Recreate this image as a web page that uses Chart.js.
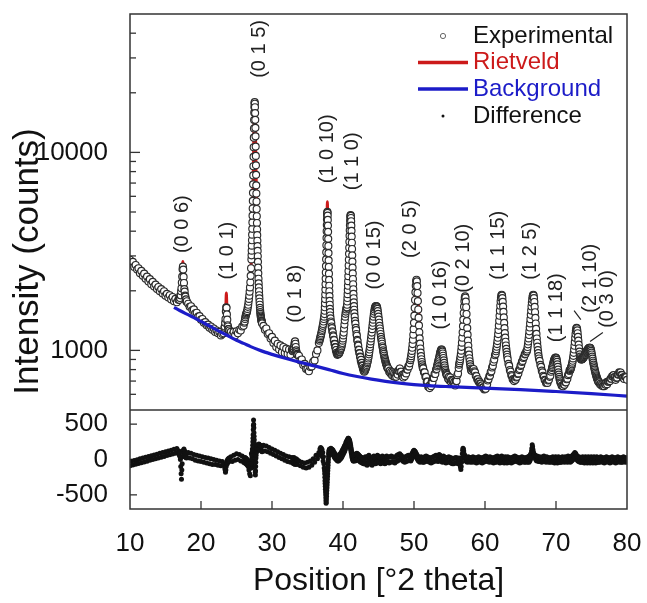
<!DOCTYPE html>
<html>
<head>
<meta charset="utf-8">
<script src="https://cdn.jsdelivr.net/npm/chart.js@4.4.1/dist/chart.umd.min.js"></script>
<style>
  html, body { margin: 0; padding: 0; background: #fff; }
  #wrap { width: 647px; height: 603px; }
</style>
</head>
<body>
<div id="wrap"><canvas id="xrd" width="647" height="603"></canvas></div>
<script>
const experimentalSegments = [
  [10.0, 0.2, [2870, 2740, 2800, 2640, 2700, 2560, 2600, 2450, 2520, 2380, 2440, 2300, 2360, 2230, 2290, 2160, 2220, 2100, 2150, 2040, 2090, 1990, 2040, 1940, 1990, 1890, 1930, 1850, 1900, 1810, 1860, 1770, 1820, 1750, 1800]],
  [16.9, 0.05, [1820, 1800, 1850, 1840, 1900, 1900, 1990, 2060, 2200, 2360, 2570, 2650, 2560, 2350, 2190, 2040, 1980, 1890, 1870, 1800, 1810, 1760, 1770]],
  [18.2, 0.2, [1720, 1660, 1670, 1600, 1610, 1540, 1550, 1480, 1490, 1430, 1440, 1380, 1390, 1340, 1350, 1300, 1320, 1270, 1290, 1240, 1260, 1220, 1240, 1190, 1210, 1220]],
  [23.3, 0.05, [1300, 1320, 1380, 1440, 1570, 1650, 1640, 1520, 1430, 1340, 1320, 1280, 1280, 1240, 1260]],
  [24.2, 0.2, [1240, 1200, 1240, 1190, 1250, 1220, 1270, 1260, 1320, 1330]],
  [26.1, 0.05, [1380, 1400, 1440, 1470, 1500, 1520, 1540, 1560, 1580, 1620, 1660, 1700, 1760, 1820, 1890, 1980, 2080, 2210, 2380, 2600, 2880]],
  [27.12, 0.02, [3020, 3190, 3380, 3600, 3840, 4110, 4430, 4790, 5210, 5690, 6250, 6900, 7650, 8510, 9500, 10620, 11870, 13200, 14570, 15870, 16960, 17690, 17950, 17600, 16900, 15800, 14600, 13300, 12050, 10700, 9600, 8600, 7700, 6820, 6200, 5650, 5180, 4760, 4400, 4080, 3820, 3580, 3360, 3180]],
  [28.0, 0.025, [2990, 2800, 2620, 2450, 2300, 2180, 2080, 1990, 1900, 1830, 1760, 1700, 1640, 1600, 1560, 1530, 1500, 1480, 1460, 1440, 1420, 1410, 1400, 1385, 1370]],
  [28.8, 0.2, [1330, 1270, 1290, 1210, 1220, 1150, 1170, 1090, 1120, 1040, 1080, 1010, 1060, 980, 1040, 970, 1020, 960, 1010, 950, 1010]],
  [32.9, 0.05, [990, 1000, 1010, 1020, 1040, 1070, 1100, 1110, 1080, 1040, 1000, 980, 960, 950, 950]],
  [33.8, 0.2, [940, 890, 900, 845, 855, 805, 805, 785, 825, 830, 875, 890, 960, 1000, 1090]],
  [36.7, 0.05, [1120, 1140, 1160, 1180, 1200, 1220, 1250, 1270, 1300, 1330, 1360, 1400, 1440, 1480]],
  [37.4, 0.02, [1525, 1585, 1652, 1729, 1816, 1915, 2028, 2157, 2305, 2473, 2666, 2883, 3128, 3398, 3690, 3995, 4298, 4577, 4806, 4957, 5010, 4950, 4790, 4560, 4270, 3970, 3660, 3370, 3100, 2850, 2640, 2440, 2270, 2120, 1990, 1880, 1780, 1700, 1620, 1560, 1500]],
  [38.25, 0.05, [1450, 1400, 1375, 1320, 1295, 1250, 1235, 1190, 1175, 1130, 1125, 1080, 1075, 1040, 1035, 1000, 1005, 970, 975, 950, 965, 955]],
  [39.35, 0.05, [960, 970, 965, 980, 985, 1000, 1010, 1020, 1030, 1050, 1070, 1090, 1120, 1150, 1190, 1230, 1290, 1350, 1420, 1480, 1530, 1570, 1610, 1640]],
  [40.55, 0.025, [1650, 1700, 1766, 1840, 1923, 2016, 2120, 2237, 2370, 2518, 2685, 2870, 3075, 3298, 3537, 3788, 4040, 4282, 4498, 4670, 4781, 4820, 4780, 4665, 4488, 4266, 4016, 3756, 3498, 3251, 3021, 2810, 2619, 2447, 2294, 2158, 2037, 1929, 1834, 1748, 1672, 1604, 1543]],
  [41.65, 0.05, [1480, 1410, 1365, 1300, 1265, 1210, 1185, 1130, 1115, 1070, 1055, 1010, 1005, 970, 965, 930, 925, 890, 895, 860, 865, 840, 835, 810, 815, 790, 805, 780, 795, 790]],
  [43.15, 0.05, [800, 810, 820, 830, 845, 860, 875, 890, 910, 930, 955, 980, 1010, 1040, 1075, 1110, 1150, 1190, 1230, 1280, 1330, 1380, 1430, 1480, 1530, 1570, 1610, 1640, 1660, 1670, 1675, 1670, 1665,
                 1650, 1620, 1580, 1530, 1480, 1430, 1380, 1330, 1290, 1250, 1210, 1170, 1140, 1110, 1080, 1050, 1030, 1000, 980, 960, 940, 920, 905, 890, 875, 860, 850, 840, 830, 820, 810]],
  [46.4, 0.1, [810, 780, 790, 765, 780, 750, 775, 740, 765, 735, 760, 735, 765, 755, 790, 785, 810, 780, 780, 745, 755, 730, 755, 740, 770, 765, 800, 800, 830, 830, 860]],
  [49.5, 0.05, [893, 911, 935, 961, 994, 1031, 1076, 1132, 1199, 1280, 1378, 1498, 1637, 1796, 1964, 2120, 2233, 2275, 2231, 2113, 1950, 1775, 1609, 1463, 1337, 1235, 1151, 1081, 1022, 975, 936, 902, 874, 850, 830, 813]],
  [51.3, 0.1, [810, 775, 775, 735, 735, 695, 695, 655, 660, 645, 670, 660, 695, 690, 725, 725, 760, 760, 800, 805]],
  [53.25, 0.05, [830, 845, 860, 875, 890, 905, 920, 940, 960, 975, 990, 1000, 1010, 1010, 1000, 985, 965, 940, 915, 890, 865, 840, 820, 800, 785, 770, 760, 750]],
  [54.7, 0.1, [750, 720, 735, 705, 730, 695, 710, 700, 705, 680, 695, 665, 700, 700, 750, 765, 815]],
  [56.35, 0.05, [846, 862, 881, 903, 929, 959, 997, 1042, 1094, 1158, 1234, 1325, 1429, 1544, 1663, 1770, 1846, 1874, 1844, 1764, 1652, 1527, 1406, 1296, 1201, 1121, 1055, 999, 952, 913, 881, 853, 830, 810, 793]],
  [58.1, 0.1, [790, 805, 800, 805, 785, 775, 745, 740, 715, 715, 695, 695, 680, 680, 665, 665, 650, 650, 635, 640, 640, 665, 675, 705, 715, 740, 745, 775, 785, 820, 835, 875, 900, 945, 960]],
  [61.55, 0.05, [990, 1014, 1043, 1076, 1114, 1158, 1209, 1267, 1335, 1411, 1496, 1587, 1680, 1769, 1842, 1893, 1910, 1892, 1837, 1759, 1664, 1564, 1467, 1376, 1295, 1222, 1160, 1106, 1059, 1018, 983, 952, 926]],
  [63.2, 0.1, [900, 855, 835, 795, 780, 750, 740, 715, 715, 700, 715, 710, 730, 735, 760, 765, 795, 805, 835, 845, 875, 885, 915, 925, 955, 960, 985, 990]],
  [65.95, 0.05, [1011, 1040, 1073, 1109, 1150, 1196, 1248, 1305, 1369, 1438, 1512, 1589, 1668, 1743, 1810, 1864, 1898, 1910, 1891, 1836, 1756, 1660, 1559, 1460, 1368, 1285, 1211, 1148, 1093, 1045, 1004, 968, 936, 910]],
  [67.7, 0.1, [885, 845, 825, 790, 775, 745, 735, 710, 705, 685, 690, 685, 705, 710, 735, 745, 780, 795]],
  [69.45, 0.05, [815, 825, 840, 855, 870, 885, 895, 905, 912, 917, 919, 918, 910, 895, 875, 850, 825, 800, 775, 755, 735, 718, 705, 690]],
  [70.7, 0.1, [680, 663, 667, 659, 673, 670, 690, 690, 715, 720, 750, 760, 790]],
  [71.95, 0.05, [790, 796, 804, 813, 824, 836, 850, 867, 887, 911, 939, 972, 1010, 1055, 1104, 1157, 1210, 1256, 1288, 1300, 1290, 1262, 1220, 1170, 1120, 1070, 1025, 985, 955, 930, 915, 905, 900, 900]],
  [73.65, 0.05, [902, 904, 908, 912, 918, 924, 931, 938, 946, 954, 962, 970, 978, 986, 994, 1001, 1008, 1014, 1019, 1024, 1027, 1029, 1031, 1031, 1025, 1012, 995, 975, 953, 930, 908, 887, 867, 848, 830, 814, 799, 785, 772, 760, 749, 739, 729, 720, 712, 704, 697, 690]],
  [76.1, 0.1, [690, 675, 680, 665, 673, 660, 667, 660, 675, 670, 690, 675, 695, 695, 700, 700, 720, 720, 740, 737, 750, 733, 730, 710, 725, 730, 755, 757, 775, 768, 773, 753, 750, 730, 730, 717, 735, 735, 733, 710]]
];

// calculated (Rietveld) profile: [2theta, counts]
const rietveldCurve = [
  [10, 2880], [12, 2380], [14, 2060], [16, 1820], [16.8, 1770], [17.1, 1860], [17.3, 2300], [17.45, 2810], [17.6, 2250], [17.8, 1850],
  [18.2, 1690], [20, 1440], [22, 1260], [23.0, 1220], [23.35, 1330], [23.5, 1650], [23.57, 1950], [23.65, 1620], [23.8, 1330], [24.2, 1230],
  [25.5, 1260], [26.0, 1330], [26.2, 1450], [26.35, 1600], [26.5, 1560], [26.7, 1780], [27.0, 2400], [27.2, 3840], [27.3, 5690], [27.4, 9500],
  [27.46, 13200], [27.5, 15870], [27.56, 18300], [27.62, 15870], [27.68, 11870], [27.74, 8510], [27.82, 5690], [27.9, 4110], [28.0, 3050], [28.1, 2330],
  [28.3, 1650], [28.6, 1380], [29.0, 1280], [30.0, 1130], [31.0, 1050], [32.0, 1000], [32.9, 990], [33.15, 1060], [33.25, 1140], [33.35, 1040], [33.6, 950],
  [34.0, 900], [35.0, 820], [36.0, 900], [36.7, 1120], [37.2, 1360], [37.4, 1525], [37.5, 1900], [37.6, 2600], [37.7, 3700], [37.76, 4700],
  [37.8, 5630], [37.84, 4700], [37.9, 3700], [38.0, 2600], [38.1, 1900], [38.2, 1500], [38.5, 1260], [39.0, 1010], [39.3, 960], [40.0, 1200],
  [40.5, 1640], [40.75, 2370], [40.9, 3300], [41.0, 4280], [41.075, 4850], [41.15, 4270], [41.25, 3250], [41.4, 2300], [41.6, 1540], [42.0, 1140],
  [42.5, 900], [43.1, 795], [43.5, 890], [44.0, 1190], [44.5, 1640], [44.75, 1680], [45.0, 1480], [45.5, 1080], [46.0, 875], [46.5, 790],
  [47.5, 750], [47.8, 790], [48.0, 834], [48.2, 780], [48.5, 740], [49.0, 790], [49.5, 893], [49.8, 1199], [50.0, 1498], [50.15, 1964],
  [50.35, 2300], [50.55, 1950], [50.7, 1463], [50.9, 1151], [51.25, 813], [52.0, 665], [52.5, 685], [53.2, 815], [53.6, 940], [53.9, 1020],
  [54.2, 890], [54.6, 750], [55.3, 700], [55.8, 675], [56.35, 846], [56.7, 1158], [56.9, 1429], [57.05, 1663], [57.2, 1874], [57.35, 1652],
  [57.5, 1296], [57.7, 1055], [58.05, 793], [58.3, 805], [59.0, 710], [60.0, 635], [61.0, 815], [61.55, 990], [61.9, 1267], [62.1, 1587],
  [62.25, 1842], [62.35, 1910], [62.45, 1837], [62.6, 1564], [62.8, 1295], [63.15, 926], [63.6, 775], [64.1, 705], [65.0, 830], [65.95, 1011],
  [66.3, 1305], [66.5, 1589], [66.65, 1810], [66.8, 1910], [66.95, 1756], [67.1, 1460], [67.3, 1211], [67.6, 910], [68.0, 795], [68.7, 685],
  [69.45, 815], [70.0, 918], [70.3, 850], [70.6, 690], [71.0, 662], [71.9, 790], [72.3, 911], [72.55, 1055], [72.75, 1210], [72.9, 1300],
  [73.05, 1220], [73.3, 985], [73.6, 900], [74.2, 975], [74.8, 1031], [75.3, 860], [76.0, 690], [76.7, 662], [77.5, 695], [78.1, 745],
  [78.4, 715], [79.0, 773], [79.5, 725], [80.0, 715]
];

// refined background: [2theta, counts]
const backgroundCurve = [
  [16.2, 1650], [17, 1590], [18, 1525], [19, 1465], [20, 1400], [21, 1340], [22, 1280], [23, 1225], [24, 1175], [25, 1125],
  [26, 1085], [27, 1045], [28, 1010], [29, 980], [30, 955], [32, 910], [34, 870], [36, 835], [38, 800], [40, 765],
  [42, 738], [44, 716], [46, 698], [48, 683], [50, 672], [52, 664], [55, 656], [60, 645], [65, 634], [70, 620], [75, 605], [80, 588]
];

// observed - calculated: [start 2theta, step, counts...]
const differenceSegments = [
  [10.0, 0.2, [-90, -24, -79, -13, -68, -2, -56, 9, -45, 20, -34, 32, -23, 43, -12, 54, 0, 65, 11, 76, 22, 88, 33, 99, 44, 110, 56, 121, 67, 132, 78, 144, 89, 155, 100]],
  [16.9, 0.05, [120, 60, 100, 40, 0, -100, -200, -280, -150, -60, 40, 110, 130, 90, 150, 60, 120, 40, 100, 30, 90, 20, 80]],
  [18.2, 0.2, [100, 20, 90, 10, 70, -10, 60, -20, 50, -30, 40, -40, 30, -50, 20, -60, 10, -70, 0, -70, -10, -80, -20, -90, -30, -60]],
  [23.3, 0.05, [-80, -120, -150, -180, -150, -100, -60, -20, -60, 0, -40, 10, -30, 20, -20]],
  [24.2, 0.2, [40, -30, 60, -10, 80, 0, 70, -20, 50, -40]],
  [26.1, 0.05, [20, -50, 30, -40, 20, -60, 10, -70, 0, -80, -20, -100, -40, -150, -60, -200, -120, -230, -100, -50, 80]],
  [27.12, 0.02, [0, -120, -60, 40, 100, 60, 150, 120, 200, 250, 300, 350, 420, 480, 560, 500, 450, 380, 330, 280, 230, 180, 130, 60, -20, -100, -180, -220, -160, -100, -40, 20, 60, 100, 140, 110, 160, 130, 170, 140, 180, 150, 190, 160]],
  [28.05, 0.05, [200, 140, 220, 150, 210, 140, 200, 130, 190, 120, 180, 110]],
  [28.8, 0.2, [200, 120, 190, 110, 170, 90, 150, 70, 130, 50, 110, 30, 90, 10, 70, -10, 50, -30, 40, -40, 30]],
  [32.9, 0.05, [20, -50, 10, -60, 30, -40, 10, -70, 0, -60, 10, -50, 0, -70, -10]],
  [33.8, 0.2, [-20, -90, -40, -110, -50, -120, -40, -110, -20, -80, 10, -40, 60, 10, 100]],
  [36.7, 0.05, [60, 150, 80, 170, 90, 160, 70, 140, 40, 100, -20, 40, -60, -120]],
  [37.4, 0.02, [-160, -200, -250, -300, -340, -380, -420, -460, -500, -540, -580, -620, -600, -560, -520, -480, -440, -400, -360, -320, -280, -240, -200, -160, -120, -80, -40, 0, 40, 80, 110, 70, 130, 90, 140, 100, 150, 90, 140, 80, 130]],
  [38.25, 0.05, [100, 160, 90, 150, 80, 140, 70, 130, 60, 110, 40, 90, 20, 80, 10, 60, 0, 50, -10, 40, -20, 30]],
  [39.35, 0.05, [-20, 40, -10, 60, 0, 80, 10, 90, 20, 110, 40, 130, 60, 150, 80, 170, 100, 190, 120, 210, 150, 240, 180, 260]],
  [40.55, 0.025, [200, 260, 220, 280, 230, 290, 240, 300, 250, 300, 250, 290, 240, 280, 230, 270, 210, 250, 190, 230, 160, 200, 130, 170, 100, 140, 70, 110, 40, 90, 20, 70, 0, 60, -10, 50, -20, 40, -20, 40, -10, 50, 0]],
  [41.65, 0.05, [60, -20, 70, -10, 80, 0, 90, 10, 80, 0, 70, -10, 60, -20, 50, -30, 40, -40, 30, -40, 30, -50, 20, -50, 10, -60, 10, -60, 0, -50]],
  [43.15, 0.05, [40, -60, 30, -70, 20, -80, 30, -60, 50, -40, 60, -30, 40, -50, 30, -60, 20, -70, 10, -80, 20, -60, 40, -40, 50, -30, 40, -50, 20, -60, 30, -50,
                 40, -40, 60, -20, 50, -30, 40, -40, 30, -50, 20, -60, 30, -50, 40, -40, 50, -30, 40, -40, 30, -50, 20, -60, 30, -50, 40, -40, 50, -30, 40, -40]],
  [46.4, 0.1, [30, -50, 40, -40, 50, -30, 40, -40, 30, -50, 40, -30, 60, -20, 70, 0, 80, 10, 60, -10, 40, -30, 30, -40, 40, -30, 50, -20, 60, -10, 50]],
  [49.5, 0.05, [40, -20, 60, 0, 80, 20, 100, 40, 120, 60, 130, 70, 120, 60, 110, 50, 90, 30, 70, 10, 50, -10, 40, -20, 30, -30, 20, -40, 30, -30, 40, -20, 30, -30, 20, -40]],
  [51.3, 0.1, [30, -40, 40, -30, 50, -20, 40, -30, 30, -40, 20, -50, 30, -40, 40, -30, 50, -20, 60, -10]],
  [53.25, 0.05, [50, -20, 40, -30, 60, -10, 70, 0, 60, -10, 50, -20, 40, -30, 30, -40, 40, -30, 50, -20, 40, -30, 30, -40, 20, -50, 30, -40]],
  [54.7, 0.1, [30, -40, 40, -30, 30, -50, 20, -60, 10, -60, 20, -50, 30, -40, 20, -60, 0]],
  [56.35, 0.05, [20, -40, 10, -80, -110, -140, -100, -40, 20, 80, 130, 160, 150, 120, 80, 40, 60, 10, 40, -20, 30, -30, 20, -40, 30, -30, 40, -20, 30, -30, 20, -40, 30, -30, 20]],
  [58.1, 0.1, [30, -40, 40, -30, 30, -40, 20, -50, 30, -40, 40, -30, 30, -40, 20, -50, 30, -40, 40, -30, 50, -20, 40, -30, 30, -40, 40, -30, 30, -40, 20, -50, 30, -40, 40]],
  [61.55, 0.05, [30, -40, 40, -30, 50, -20, 40, -30, 30, -40, 20, -50, 30, -40, 40, -30, 50, -20, 40, -30, 30, -40, 20, -50, 30, -40, 40, -30, 30, -40, 20, -50, 30]],
  [63.2, 0.1, [40, -30, 30, -40, 20, -50, 30, -40, 40, -30, 50, -20, 40, -30, 30, -40, 20, -50, 30, -40, 40, -30, 30, -40, 20, -40, 30, -30]],
  [65.95, 0.05, [30, -40, 40, -30, 30, -40, 50, -20, 60, 0, 80, 30, 120, 160, 210, 180, 140, 110, 90, 60, 70, 30, 60, 10, 50, -10, 40, -20, 50, -10, 40, -20, 30, -30]],
  [67.7, 0.1, [40, -30, 30, -40, 40, -20, 50, -30, 30, -40, 40, -30, 30, -40, 20, -40, 30, -30]],
  [69.45, 0.05, [30, -40, 40, -30, 30, -40, 20, -50, 30, -40, 40, -30, 30, -40, 20, -50, 30, -40, 40, -30, 30, -40, 20, -40]],
  [70.7, 0.1, [30, -40, 40, -30, 30, -40, 40, -30, 30, -40, 50, -20, 40]],
  [71.95, 0.05, [20, -40, 30, -30, 40, -20, 50, -10, 60, 0, 70, 10, 80, 20, 100, 40, 90, 30, 70, 10, 50, -10, 40, -20, 30, -30, 40, -30, 30, -40, 20, -40, 30, -30]],
  [73.65, 0.05, [30, -40, 40, -30, 30, -40, 20, -50, 30, -40, 40, -30, 30, -40, 20, -50, 30, -40, 40, -30, 30, -40, 20, -50, 30, -40, 40, -30, 30, -40,
                 20, -50, 30, -40, 40, -30, 30, -40, 20, -50, 30, -40, 40, -30, 30, -40, 20, -40]],
  [76.1, 0.1, [30, -40, 40, -30, 30, -40, 20, -50, 30, -40, 40, -30, 30, -40, 20, -50, 30, -40, 40, -30, 30, -40, 20, -50, 30, -40, 40, -30, 30, -40, 20, -40, 30, -40, 40, -30, 30, -40, 20, -30]]
];

// axis ticks
const intensityTicks = [500, 600, 700, 800, 900, 1000, 2000, 3000, 4000, 5000, 6000, 7000, 8000, 9000, 10000, 20000, 30000, 40000, 50000];
const intensityTickLabels = [1000, 10000];
const differenceTicks = [-500, 0, 500];
const positionTicks = [10, 20, 30, 40, 50, 60, 70, 80];

// reflection labels: text, 2theta, intensity at the foot of the label
const peakNames = ['(0 0 6)', '(1 0 1)', '(0 1 5)', '(0 1 8)', '(1 0 10)', '(1 1 0)', '(0 0 15)', '(2 0 5)', '(1 0 16)', '(0 2 10)', '(1 1 15)', '(1 2 5)', '(1 1 18)', '(2 1 10)', '(0 3 0)'];
const peakLabelAt = [17.46, 23.8, 28.17, 33.24, 37.75, 41.27, 44.5, 49.44, 53.8, 57.04, 61.83, 66.34, 70.0, 74.8, 77.3];
const peakLabelFoot = [3100, 2280, 23800, 1380, 6980, 6440, 2030, 2930, 1275, 1955, 2275, 2275, 1100, 1550, 1300];
// little pointer strokes for the two crowded labels: [2theta1, I1, 2theta2, I2]
const pointerLines = [[72.55, 1590, 73.5, 1430], [74.8, 1110, 76.6, 1230]];

const FONT = "'Liberation Sans', Arial, Helvetica, sans-serif";
const RED = '#cc1a1a';
const BLUE = '#1c1cc8';
const INK = '#111';

function expand(segments) {
    const pts = [];
    segments.forEach(function ([start, step, values]) {
        values.forEach(function (v, i) {
            pts.push({ x: +(start + i * step).toFixed(3), y: v });
        });
    });
    return pts;
}

function toPoints(pairs) {
    return pairs.map(([x, y]) => ({ x: x, y: y }));
}

function strokeLine(ctx, x1, y1, x2, y2) {
    ctx.beginPath();
    ctx.moveTo(x1, y1);
    ctx.lineTo(x2, y2);
    ctx.stroke();
}

// frame, inward ticks, labels and legend
const decorPlugin = {
    id: 'decor',
    beforeDatasetsDraw(chart) {
        const { ctx, chartArea, scales } = chart;
        ctx.save();
        ctx.strokeStyle = '#333';
        ctx.lineWidth = 1.3;
        positionTicks.forEach(function (v) {
            const px = scales.x.getPixelForValue(v);
            if (px <= chartArea.left + 1 || px >= chartArea.right - 1) return;
            strokeLine(ctx, px, chartArea.bottom, px, chartArea.bottom - 8);
        });
        intensityTicks.forEach(function (v) {
            if (v <= scales.y.min || v >= scales.y.max) return;
            const py = scales.y.getPixelForValue(v);
            const len = intensityTickLabels.includes(v) ? 10 : 6;
            strokeLine(ctx, chartArea.left, py, chartArea.left + len, py);
        });
        differenceTicks.forEach(function (v) {
            const py = scales.yDiff.getPixelForValue(v);
            strokeLine(ctx, chartArea.left, py, chartArea.left + 7, py);
        });
        ctx.restore();
    },
    afterDatasetsDraw(chart) {
        const { ctx, chartArea, scales } = chart;
        const xs = scales.x, ys = scales.y;
        ctx.save();

        // frame + panel separator
        ctx.strokeStyle = '#333';
        ctx.lineWidth = 1.5;
        ctx.strokeRect(chartArea.left, chartArea.top, chartArea.right - chartArea.left, chartArea.bottom - chartArea.top);
        strokeLine(ctx, chartArea.left, ys.bottom, chartArea.right, ys.bottom);

        // reflection labels
        ctx.fillStyle = '#222';
        ctx.font = '20px ' + FONT;
        ctx.textAlign = 'left';
        ctx.textBaseline = 'middle';
        peakNames.forEach(function (name, i) {
            ctx.save();
            ctx.translate(xs.getPixelForValue(peakLabelAt[i]), ys.getPixelForValue(peakLabelFoot[i]));
            ctx.rotate(-Math.PI / 2);
            ctx.fillText(name, 0, 0);
            ctx.restore();
        });
        ctx.strokeStyle = '#222';
        ctx.lineWidth = 1.2;
        pointerLines.forEach(function ([a, b, c, d]) {
            strokeLine(ctx, xs.getPixelForValue(a), ys.getPixelForValue(b), xs.getPixelForValue(c), ys.getPixelForValue(d));
        });

        // y title, centred on both panels
        ctx.save();
        ctx.translate(28, (chartArea.top + chartArea.bottom) / 2);
        ctx.rotate(-Math.PI / 2);
        ctx.font = '35px ' + FONT;
        ctx.textAlign = 'center';
        ctx.fillStyle = INK;
        ctx.fillText('Intensity (counts)', 0, 0);
        ctx.restore();

        // legend
        const lx = chartArea.right - 209;
        const rows = [22, 48.5, 75, 102].map(r => chartArea.top + r);
        const legend = chart.data.datasets;
        ctx.font = '24px ' + FONT;
        ctx.textAlign = 'left';
        ctx.textBaseline = 'middle';
        legend.forEach(function (ds, i) {
            const y = rows[i];
            if (ds.showLine) {
                ctx.strokeStyle = ds.borderColor;
                ctx.lineWidth = 3.5;
                strokeLine(ctx, lx, y, lx + 50, y);
            } else {
                ctx.beginPath();
                ctx.arc(lx + 25, y, i === 0 ? 2.6 : 1.5, 0, Math.PI * 2);
                if (i === 0) {
                    ctx.fillStyle = '#fff';
                    ctx.fill();
                    ctx.strokeStyle = '#666';
                    ctx.lineWidth = 1;
                    ctx.stroke();
                } else {
                    ctx.fillStyle = INK;
                    ctx.fill();
                }
            }
            ctx.fillStyle = ds.legendColor;
            ctx.fillText(ds.label, lx + 55, y);
        });
        ctx.restore();
    }
};

Chart.defaults.font.family = FONT;
Chart.defaults.color = INK;

const noGrid = { display: false };
const noBorder = { display: false };

new Chart(document.getElementById('xrd'), {
    type: 'scatter',
    data: {
        datasets: [
            {
                label: 'Experimental', legendColor: INK,
                data: expand(experimentalSegments), yAxisID: 'y',
                pointRadius: 3.5, pointBorderWidth: 1.15, pointBorderColor: '#2a2a2a', pointBackgroundColor: '#fff',
                showLine: false, order: 1
            },
            {
                label: 'Rietveld', legendColor: RED,
                data: toPoints(rietveldCurve), yAxisID: 'y',
                showLine: true, borderColor: RED, borderWidth: 3, pointRadius: 0,
                cubicInterpolationMode: 'monotone', order: 2
            },
            {
                label: 'Background', legendColor: BLUE,
                data: toPoints(backgroundCurve), yAxisID: 'y',
                showLine: true, borderColor: BLUE, borderWidth: 3.2, pointRadius: 0,
                cubicInterpolationMode: 'monotone', order: 0
            },
            {
                label: 'Difference', legendColor: INK,
                data: expand(differenceSegments), yAxisID: 'yDiff',
                pointRadius: 2.5, pointBorderWidth: 0, pointBackgroundColor: INK,
                showLine: false, order: 3
            }
        ]
    },
    options: {
        responsive: false,
        animation: false,
        devicePixelRatio: 1,
        events: [],
        layout: { padding: { top: 14, right: 20, bottom: 0, left: 0 } },
        plugins: { legend: { display: false }, tooltip: { enabled: false } },
        scales: {
            x: {
                type: 'linear', position: 'bottom', min: 10, max: 80,
                grid: noGrid, border: noBorder,
                afterBuildTicks: s => { s.ticks = positionTicks.map(v => ({ value: v })); },
                ticks: { autoSkip: false, maxRotation: 0, font: { size: 26 }, color: INK, padding: 11 },
                title: { display: true, text: 'Position [°2 theta]', font: { size: 32 }, color: INK, padding: { top: 0, bottom: 3 } },
                afterFit: s => { s.height = 94; s.paddingLeft = 0; s.paddingRight = 0; }
            },
            y: {
                type: 'logarithmic', position: 'left', stack: 'xrd', stackWeight: 4, weight: 1,
                min: 500, max: 50000,
                grid: noGrid, border: noBorder,
                afterBuildTicks: s => { s.ticks = intensityTicks.map(v => ({ value: v })); },
                ticks: {
                    autoSkip: false, font: { size: 26 }, color: INK, padding: 14,
                    callback: v => intensityTickLabels.includes(v) ? String(v) : ''
                },
                afterFit: s => { s.width = 130; s.paddingTop = 0; s.paddingBottom = 0; }
            },
            yDiff: {
                type: 'linear', position: 'left', stack: 'xrd', stackWeight: 1, weight: 0,
                min: -700, max: 700,
                grid: noGrid, border: noBorder,
                afterBuildTicks: s => { s.ticks = differenceTicks.map(v => ({ value: v })); },
                ticks: { autoSkip: false, font: { size: 26 }, color: INK, padding: 14, callback: v => String(v) },
                afterFit: s => { s.width = 130; s.paddingTop = 0; s.paddingBottom = 0; }
            }
        }
    },
    plugins: [decorPlugin]
});
</script>
</body>
</html>
